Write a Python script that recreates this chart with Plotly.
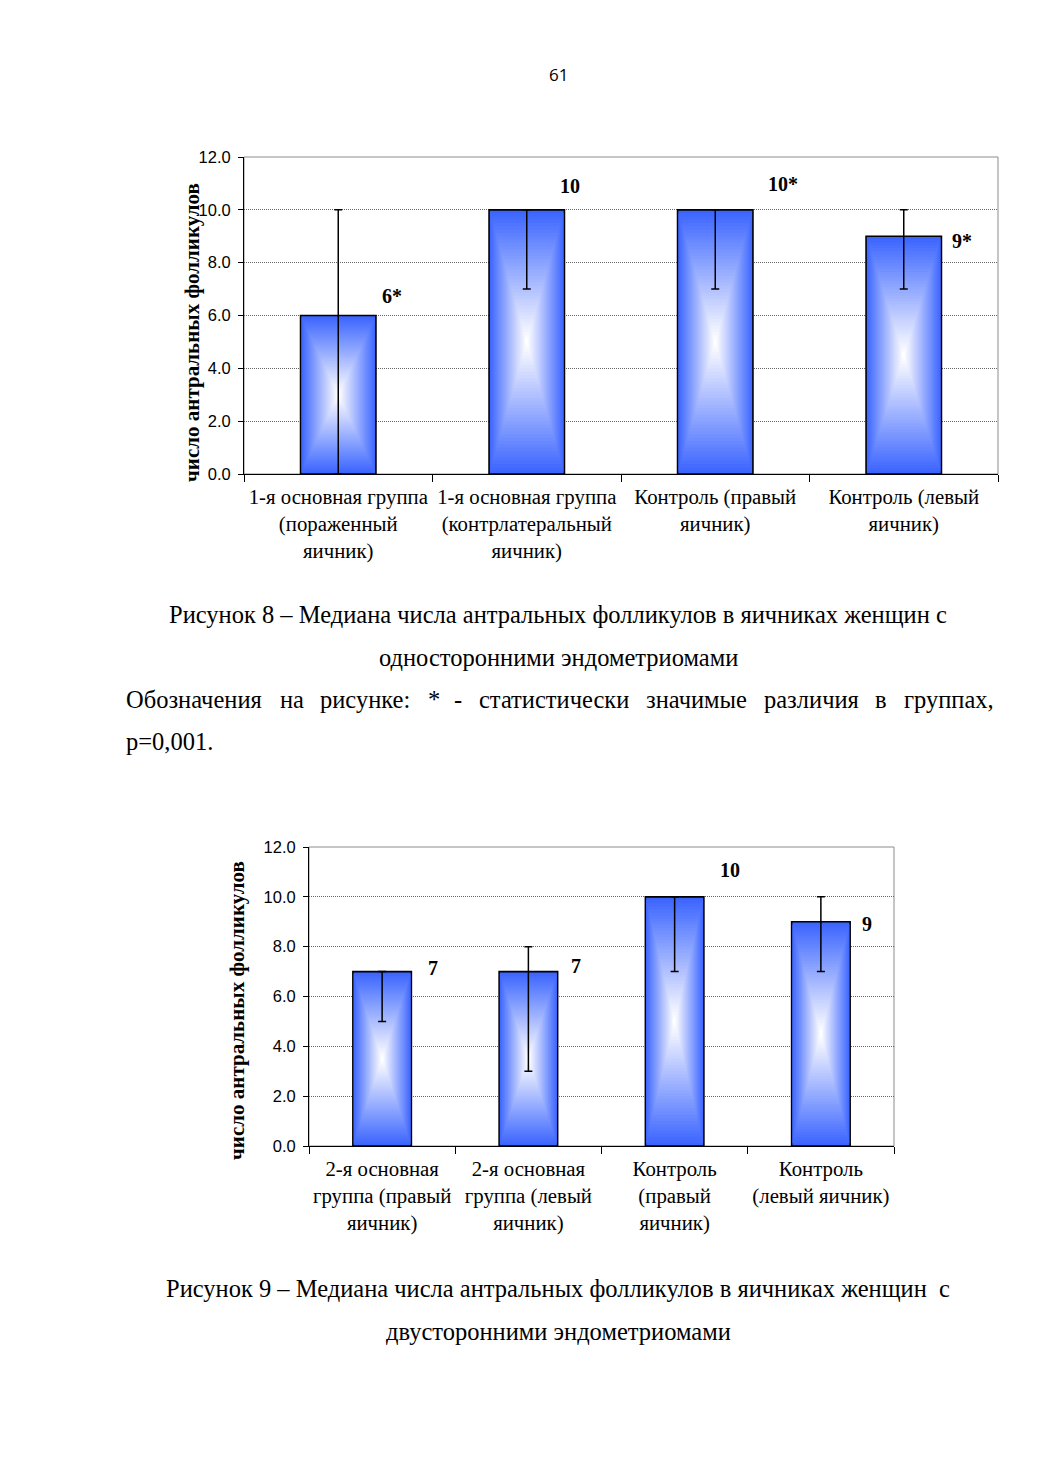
import plotly.graph_objects as go

W, H = 1040, 1471
# measured mapping of the photographed page: x shifted by body margin,
# y drawn into an effective paper height with a top offset
OX = 8
OY, HY = 17, 1453

# ---------------- data ----------------
cats1 = ["1-я основная группа<br>(пораженный<br>яичник)",
         "1-я основная группа<br>(контрлатеральный<br>яичник)",
         "Контроль (правый<br>яичник)",
         "Контроль (левый<br>яичник)"]
med1 = [6, 10, 10, 9]
err1_plus = [4, 0, 0, 1]
err1_minus = [6, 3, 3, 2]
labels1 = ["6*", "10", "10*", "9*"]

cats2 = ["2-я основная<br>группа (правый<br>яичник)",
         "2-я основная<br>группа (левый<br>яичник)",
         "Контроль<br>(правый<br>яичник)",
         "Контроль<br>(левый яичник)"]
med2 = [7, 7, 10, 9]
err2_plus = [0, 1, 0, 1]
err2_minus = [2, 4, 3, 2]
labels2 = ["7", "7", "10", "9"]

yticks = [0, 2, 4, 6, 8, 10, 12]
ytitle = "число антральных фолликулов"

# ---------------- styles / positions ----------------
SERIF = "Liberation Serif, Times New Roman, serif"
SANS = "Liberation Sans, Arial, sans-serif"
EDGE = (59, 100, 255)
NL = 40
BARW = 0.4

lab_shift1 = [(54, 20), (43, 24), (68, 26), (58, -5)]
lab_shift2 = [(51, 4), (48, 6), (55, 27), (46, -2)]

fig = go.Figure()


def add_chart(cats, vals, ep, em, xa, ya):
    for k in range(NL):
        f = k / NL
        t = k / (NL - 1)
        col = "rgb(%d,%d,%d)" % tuple(round(c + (255 - c) * t) for c in EDGE)
        fig.add_trace(go.Bar(
            x=cats, y=[v * (1 - f) for v in vals], base=[v * f / 2 for v in vals],
            width=BARW * (1 - f), marker_color=col,
            marker_line_width=1.6 if k == 0 else 0, marker_line_color="black",
            xaxis=xa, yaxis=ya, showlegend=False, hoverinfo="skip"))
    fig.add_trace(go.Scatter(
        x=cats, y=vals, mode="markers", marker=dict(size=1, opacity=0),
        error_y=dict(type="data", array=ep, arrayminus=em, symmetric=False,
                     color="black", thickness=1.5, width=4),
        xaxis=xa, yaxis=ya, showlegend=False, hoverinfo="skip"))


add_chart(cats1, med1, err1_plus, err1_minus, "x", "y")
add_chart(cats2, med2, err2_plus, err2_minus, "x2", "y2")


def px_x(p):
    return (p - OX) / W


def px_y(p):
    return 1 - (p - OY) / HY


axis_common_x = dict(type="category", showline=True, linecolor="black", linewidth=1,
                     ticks="outside", tickson="boundaries", ticklen=7, tickcolor="black",
                     showgrid=False, tickangle=0, ticklabelstandoff=4,
                     tickfont=dict(family=SERIF, size=20.8, color="black"),
                     range=[-0.5, 3.5])
axis_common_y = dict(range=[0, 12], tickvals=yticks, tickformat=".1f",
                     showline=True, linecolor="black", linewidth=1,
                     ticks="outside", ticklen=5, tickcolor="black", ticklabelstandoff=4,
                     showgrid=True, gridcolor="#666666", gridwidth=1, griddash="1px,1px",
                     zeroline=False, tickfont=dict(family=SANS, size=16.5, color="black"))

fig.update_layout(
    width=W, height=H, margin=dict(l=0, r=0, t=0, b=0),
    paper_bgcolor="white", plot_bgcolor="white", barmode="overlay",
    xaxis=dict(domain=[px_x(244), px_x(998)], anchor="y", **axis_common_x),
    yaxis=dict(domain=[px_y(474), px_y(157)], anchor="x", **axis_common_y),
    xaxis2=dict(domain=[px_x(309), px_x(894)], anchor="y2", **axis_common_x),
    yaxis2=dict(domain=[px_y(1146), px_y(847)], anchor="x2", **axis_common_y),
)

# grey plot-area borders (top/right)
for xr, yr in (("x domain", "y domain"), ("x2 domain", "y2 domain")):
    fig.add_shape(type="rect", xref=xr, yref=yr, x0=0, x1=1, y0=0, y1=1,
                  line=dict(color="#8c8c8c", width=1), layer="below")

# data labels
for cats, vals, labs, shifts, xa, ya in ((cats1, med1, labels1, lab_shift1, "x", "y"),
                                         (cats2, med2, labels2, lab_shift2, "x2", "y2")):
    for c, v, l, (dx, dy) in zip(cats, vals, labs, shifts):
        fig.add_annotation(x=c, y=v, xref=xa, yref=ya, text="<b>%s</b>" % l,
                           showarrow=False, xshift=dx, yshift=dy,
                           xanchor="center", yanchor="middle",
                           font=dict(family=SERIF, size=20, color="black"))


def page_text(text, xp, yp, size, family=SERIF, xanchor="center", angle=0):
    fig.add_annotation(x=px_x(xp), y=px_y(yp), xref="paper", yref="paper", text=text,
                       textangle=angle, showarrow=False, xanchor=xanchor, yanchor="middle",
                       font=dict(family=family, size=size, color="black"))


# y-axis titles
for xp, yp in ((192, 333), (237, 1011)):
    page_text("<b>%s</b>" % ytitle, xp, yp, 21, angle=-90)

# page number
page_text("61", 558, 74, 17, family="Open Sans, sans-serif")

# captions
caps = [
    ("Рисунок 8 – Медиана числа антральных фолликулов в яичниках женщин с", 558, 614),
    ("односторонними эндометриомами", 558, 657),
    ("Рисунок 9 – Медиана числа антральных фолликулов в яичниках женщин  с", 558, 1288),
    ("двусторонними эндометриомами", 558, 1331),
]
for t, xp, yp in caps:
    page_text(t, xp, yp, 24.5)

# justified note line
note_words = ["Обозначения", "на", "рисунке:", "*", "-", "статистически",
              "значимые", "различия", "в", "группах,"]
note_x = [124, 278, 318, 426, 452, 477, 644, 762, 873, 902]
for w_, xp in zip(note_words, note_x):
    page_text(w_, xp, 699, 24.5, xanchor="left")
page_text("p=0,001.", 124, 741, 24.5, xanchor="left")

fig.write_html("out.html")
